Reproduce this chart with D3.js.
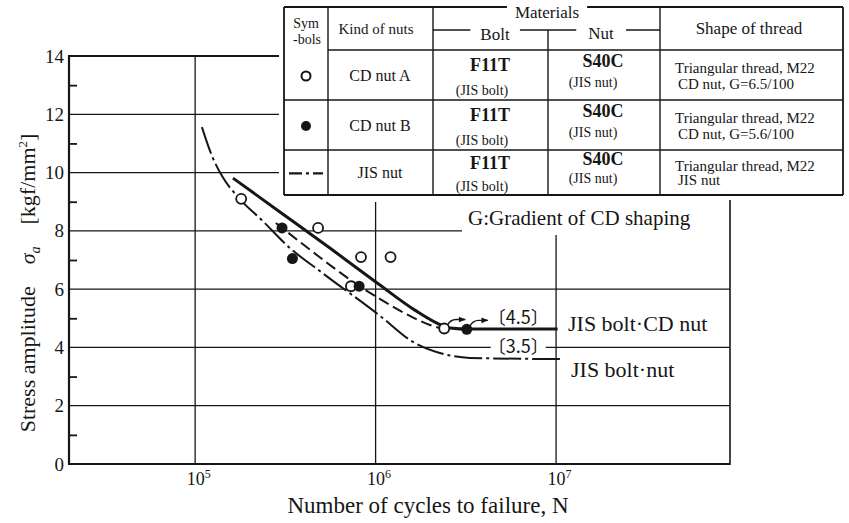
<!DOCTYPE html>
<html>
<head>
<meta charset="utf-8">
<script src="https://cdn.jsdelivr.net/npm/d3@7"></script>
<style>
body { margin: 0; background: #fff; }
text { font-family: "Liberation Serif", "Times New Roman", serif; fill: #161616; }
</style>
</head>
<body>
<div id="chart"></div>
<script>
// values
var yTicks = [0, 2, 4, 6, 8, 10, 12, 14];
var yMinor = [1, 3, 5, 7, 9, 11, 13];
var xTicks = [1e5, 1e6, 1e7];
var xExps = ["5", "6", "7"];

// measured points [N, stress]
var cdNutA = [[1.8e5, 9.1], [4.8e5, 8.1], [8.3e5, 7.1], [1.21e6, 7.1], [7.3e5, 6.1], [2.4e6, 4.65]];
var cdNutB = [[3.03e5, 8.1], [3.46e5, 7.05], [8.1e5, 6.1], [3.2e6, 4.62]];

// S-N curves
var cdSolid = [[1.62e5, 9.81], [2.95e5, 8.65], [5.58e5, 7.41], [1.02e6, 6.21], [1.65e6, 5.28],
               [2.13e6, 4.87], [2.58e6, 4.67], [3.33e6, 4.63], [1.02e7, 4.63]];
var cdDashed = [[2.8e5, 8.27], [3.81e5, 7.62], [5.58e5, 6.83], [7.67e5, 6.21], [1.06e6, 5.66],
                [1.55e6, 5.08], [2.0e6, 4.77], [2.39e6, 4.63]];
var jisCurve = [[1.09e5, 11.56], [1.24e5, 10.57], [1.41e5, 9.88], [1.77e5, 9.09], [2.34e5, 8.37],
                [3.35e5, 7.41], [4.91e5, 6.62], [1.06e6, 5.08], [1.61e6, 4.19], [2.27e6, 3.81],
                [3.33e6, 3.64], [1.05e7, 3.6]];

var limits = [4.5, 3.5];
var limitLabels = ["〔4.5〕", "〔3.5〕"];

// table contents
var tKinds = ["CD nut  A", "CD nut  B", "JIS nut"];
var tBolt = ["F11T", "F11T", "F11T"];
var tBoltStd = ["(JIS bolt)", "(JIS bolt)", "(JIS bolt)"];
var tNut = ["S40C", "S40C", "S40C"];
var tNutStd = ["(JIS nut)", "(JIS nut)", "(JIS nut)"];
var tShape = [["Triangular thread, M22", "CD nut, G=6.5/100"],
              ["Triangular thread, M22", "CD nut, G=5.6/100"],
              ["Triangular thread, M22", "JIS nut"]];

var svgWidth = 849, svgHeight = 523;
var svg = d3.select("#chart").append("svg")
    .attr("width", svgWidth)
    .attr("height", svgHeight);

var x = d3.scaleLog().domain([2e4, 9.2e7]).range([69, 730]);
var y = d3.scaleLinear().domain([0, 14]).range([464, 56]);

var ink = "#161616";

// grid lines (partial, the table and labels sit on top of the frame)
var hGrid = [{v: 2, to: 730}, {v: 4, to: 730}, {v: 6, to: 730}, {v: 8, to: 462}, {v: 10, to: 279}, {v: 12, to: 279}];
svg.append("g").selectAll("line").data(hGrid).enter().append("line")
    .attr("x1", x.range()[0]).attr("x2", d => d.to)
    .attr("y1", d => y(d.v)).attr("y2", d => y(d.v))
    .attr("stroke", ink).attr("stroke-width", 1.3);

var vGrid = [{n: 1e5, from: 56}, {n: 1e6, from: 202}, {n: 1e7, from: 235}];
svg.append("g").selectAll("line").data(vGrid).enter().append("line")
    .attr("x1", d => x(d.n)).attr("x2", d => x(d.n))
    .attr("y1", d => d.from).attr("y2", y(0))
    .attr("stroke", ink).attr("stroke-width", 1.3);

// frame
svg.append("line").attr("x1", x.range()[0]).attr("x2", x.range()[0])
    .attr("y1", y(14) - 1).attr("y2", y(0) + 1).attr("stroke", ink).attr("stroke-width", 2.2);
svg.append("line").attr("x1", x.range()[0]).attr("x2", x.range()[1])
    .attr("y1", y(0)).attr("y2", y(0)).attr("stroke", ink).attr("stroke-width", 2.2);
svg.append("line").attr("x1", x.range()[0]).attr("x2", 279)
    .attr("y1", y(14)).attr("y2", y(14)).attr("stroke", ink).attr("stroke-width", 2);
svg.append("line").attr("x1", x.range()[1]).attr("x2", x.range()[1])
    .attr("y1", 200).attr("y2", y(0) + 1).attr("stroke", ink).attr("stroke-width", 1.6);

// y axis labels
var yAxis = svg.append("g")
    .attr("transform", `translate(${x.range()[0]},0)`)
    .call(d3.axisLeft(y).tickValues(yTicks).tickSize(0).tickPadding(5));
yAxis.select(".domain").remove();
yAxis.attr("font-family", "Liberation Serif, serif");
yAxis.selectAll("text")
    .style("font-family", "Liberation Serif, serif")
    .style("font-size", "19px")
    .attr("fill", ink);

// minor ticks on the inside
var yMinorAxis = svg.append("g")
    .attr("transform", `translate(${x.range()[0]},0)`)
    .call(d3.axisRight(y).tickValues(yMinor).tickSize(8).tickFormat(""));
yMinorAxis.select(".domain").remove();
yMinorAxis.selectAll("line").attr("stroke", ink).attr("stroke-width", 1.8);

// x axis labels 10^n
var xAxis = svg.append("g")
    .attr("transform", `translate(0,${y(0)})`)
    .call(d3.axisBottom(x).tickValues(xTicks).tickSize(0).tickFormat(""));
xAxis.select(".domain").remove();
xAxis.selectAll(".tick").each(function(d, i) {
    var t = d3.select(this).append("text")
        .attr("x", -9).attr("y", 21)
        .attr("text-anchor", "start")
        .style("font-family", "Liberation Serif, serif")
        .style("font-size", "18px")
        .attr("fill", ink);
    t.append("tspan").text("10");
    t.append("tspan").attr("dy", -7).style("font-size", "12px").text(xExps[i]);
});

// axis titles
svg.append("text")
    .attr("x", 428).attr("y", 513)
    .attr("text-anchor", "middle")
    .style("font-size", "23px")
    .text("Number of cycles to failure, N");

var yTitle = svg.append("text")
    .attr("transform", "translate(35,283) rotate(-90)")
    .attr("text-anchor", "middle")
    .style("font-size", "22px");
yTitle.append("tspan").text("Stress amplitude\u2003");
yTitle.append("tspan").style("font-style", "italic").text("σ");
yTitle.append("tspan").attr("dy", 5).style("font-style", "italic").style("font-size", "14px").text("a");
yTitle.append("tspan").attr("dy", -5).text("\u2003[kgf/mm");
yTitle.append("tspan").attr("dy", -8).style("font-size", "13px").text("2");
yTitle.append("tspan").attr("dy", 8).text("]");

// curves
var line = d3.line()
    .x(d => x(d[0]))
    .y(d => y(d[1]))
    .curve(d3.curveMonotoneX);

svg.append("path").datum(jisCurve).attr("d", line)
    .attr("fill", "none").attr("stroke", ink).attr("stroke-width", 2)
    .attr("stroke-dasharray", "28,4,3,4");
svg.append("path").datum(cdDashed).attr("d", line)
    .attr("fill", "none").attr("stroke", ink).attr("stroke-width", 2)
    .attr("stroke-dasharray", "11,5");
svg.append("path").datum(cdSolid).attr("d", line)
    .attr("fill", "none").attr("stroke", ink).attr("stroke-width", 3);

// arrow marker
var defs = svg.append("defs");
defs.append("marker")
    .attr("id", "arr").attr("viewBox", "0 0 10 10")
    .attr("refX", 9).attr("refY", 5)
    .attr("markerWidth", 9).attr("markerHeight", 7)
    .attr("markerUnits", "userSpaceOnUse")
    .attr("orient", "auto")
    .append("path").attr("d", "M0,1 L10,5 L0,9 Z").attr("fill", ink);

// run-outs: arrows from the last points
[cdNutA[cdNutA.length - 1], cdNutB[cdNutB.length - 1]].forEach(function(p) {
    var px = x(p[0]), py = y(p[1]);
    svg.append("path")
        .attr("d", `M${px + 3},${py - 3} Q${px + 6},${py - 9} ${px + 12},${py - 9} L${px + 21},${py - 9}`)
        .attr("fill", "none").attr("stroke", ink).attr("stroke-width", 1.3)
        .attr("marker-end", "url(#arr)");
});

// points
svg.append("g").selectAll("circle").data(cdNutA).enter().append("circle")
    .attr("cx", d => x(d[0])).attr("cy", d => y(d[1])).attr("r", 5)
    .attr("fill", "#fff").attr("stroke", ink).attr("stroke-width", 1.8);
svg.append("g").selectAll("circle").data(cdNutB).enter().append("circle")
    .attr("cx", d => x(d[0])).attr("cy", d => y(d[1])).attr("r", 5.5)
    .attr("fill", ink);

// fatigue limit labels with white background
limits.forEach(function(v, i) {
    var t = svg.append("text")
        .attr("x", x(4.4e6) - 4).attr("y", y(v) - 9)
        .style("font-family", "Noto Sans CJK JP, sans-serif")
        .style("font-size", "18px")
        .text(limitLabels[i]);
    var b = t.node().getBBox();
    svg.insert("rect", function() { return t.node(); })
        .attr("x", b.x + 3).attr("y", b.y + 3).attr("width", b.width - 6).attr("height", b.height - 6)
        .attr("fill", "#fff");
});

svg.append("text").attr("x", 568).attr("y", 331).style("font-size", "22px").text("JIS bolt·CD nut");
svg.append("text").attr("x", 571).attr("y", 377).style("font-size", "22px").text("JIS bolt·nut");
svg.append("text").attr("x", 468).attr("y", 225).style("font-size", "21px").text("G:Gradient of CD shaping");

// ---- table ----
var cols = [284, 328, 433, 548, 660, 843];
var rowTop = [50, 100, 150];
var rowBot = [100, 150, 195];
var tTop = 7, tBottom = 195;
var tbl = svg.append("g");

function tline(x1, y1, x2, y2, w) {
    tbl.append("line").attr("x1", x1).attr("y1", y1).attr("x2", x2).attr("y2", y2)
        .attr("stroke", ink).attr("stroke-width", w || 1.4);
}
function ttext(tx, ty, s, size, opts) {
    opts = opts || {};
    return tbl.append("text").attr("x", tx).attr("y", ty)
        .attr("text-anchor", opts.anchor || "middle")
        .style("font-size", size + "px")
        .style("font-weight", opts.bold ? "bold" : "normal")
        .text(s);
}
function gapText(t, pad) {
    var b = t.node().getBBox();
    tbl.insert("rect", function() { return t.node(); })
        .attr("x", b.x - pad).attr("y", b.y).attr("width", b.width + 2 * pad).attr("height", b.height)
        .attr("fill", "#fff");
}

tbl.append("rect").attr("x", cols[0]).attr("y", tTop)
    .attr("width", cols[5] - cols[0]).attr("height", tBottom - tTop).attr("fill", "#fff");

tline(cols[0], tTop, cols[5], tTop, 1.8);
tline(cols[0], tBottom, cols[5], tBottom, 1.8);
tline(cols[0], tTop, cols[0], tBottom, 1.8);
tline(cols[5], tTop, cols[5], tBottom, 1.8);
tline(cols[1], tTop, cols[1], tBottom);
tline(cols[2], tTop, cols[2], tBottom);
tline(cols[4], tTop, cols[4], tBottom);
tline(cols[3], 30, cols[3], tBottom);
tline(cols[2], 30, cols[4], 30);
tline(cols[1], rowTop[0], cols[5], rowTop[0]);
tline(cols[0], rowTop[1], cols[5], rowTop[1]);
tline(cols[0], rowTop[2], cols[5], rowTop[2]);

gapText(ttext(547, 18, "Materials", 17), 8);
gapText(ttext(495, 40, "Bolt", 17), 10);
gapText(ttext(601, 39, "Nut", 17), 12);
ttext(306, 28, "Sym", 14);
ttext(307, 44, "-bols", 14);
ttext(376, 34, "Kind of nuts", 15);
ttext(749, 34, "Shape of thread", 17);

rowTop.forEach(function(top, i) {
    var h = rowBot[i] - top;
    var cy = top + 0.52 * h;
    if (i === 0) {
        tbl.append("circle").attr("cx", 306).attr("cy", cy).attr("r", 4.5)
            .attr("fill", "#fff").attr("stroke", ink).attr("stroke-width", 2);
    } else if (i === 1) {
        tbl.append("circle").attr("cx", 306).attr("cy", cy).attr("r", 5).attr("fill", ink);
    } else {
        tbl.append("line").attr("x1", 289).attr("x2", 323).attr("y1", cy).attr("y2", cy)
            .attr("stroke", ink).attr("stroke-width", 2.2).attr("stroke-dasharray", "13,4,3,4,13");
    }
    ttext(380, top + 0.62 * h, tKinds[i], 16);
    ttext(490, top + 0.42 * h, tBolt[i], 18, {bold: true});
    ttext(482, top + 0.9 * h, tBoltStd[i], 14);
    ttext(603, top + 0.33 * h, tNut[i], 18, {bold: true});
    ttext(593, top + 0.74 * h, tNutStd[i], 14);
    ttext(675, top + 0.46 * h, tShape[i][0], 15, {anchor: "start"});
    ttext(678, top + 0.78 * h, tShape[i][1], 15, {anchor: "start"});
});
</script>
</body>
</html>
